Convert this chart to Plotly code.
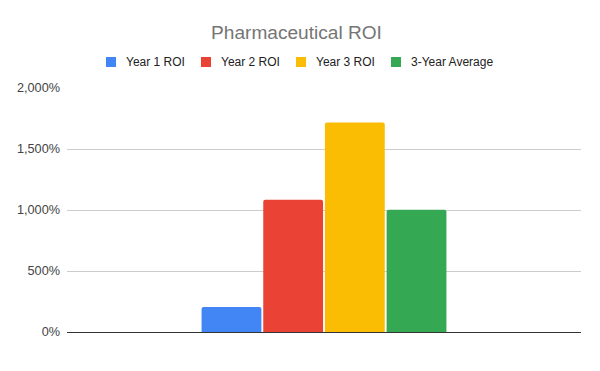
import plotly.graph_objects as go

categories = ["Pharmaceutical"]
series_names = ["Year 1 ROI", "Year 2 ROI", "Year 3 ROI", "3-Year Average"]
series_values = [[205], [1085], [1717], [1002]]
colors = ["#4285F4", "#EA4335", "#FBBC04", "#34A853"]
tick_vals = [0, 500, 1000, 1500, 2000]
tick_text = ["0%", "500%", "1,000%", "1,500%", "2,000%"]

# the page body has an 8px default margin; lay out in screen pixels and offset
OFF = 8
W, H = 600 - 2 * OFF, 371 - 2 * OFF
# screen-space plot rectangle
SX0, SX1, SY0, SY1 = 67, 581, 88, 332
L, R = SX0 - OFF, W - (SX1 - OFF)
T, B = SY0 - OFF, H - (SY1 - OFF)
PW, PH = W - L - R, H - T - B

def sx(px):
    return (px - SX0) / PW

def sy(py):
    return (SY1 - py) / PH

fig = go.Figure()
for name, vals, c in zip(series_names, series_values, colors):
    fig.add_trace(go.Bar(x=categories, y=vals, name=name,
                         marker=dict(color=c, line=dict(width=0), cornerradius=2),
                         showlegend=False,
                         hovertemplate="%{y}%<extra>" + name + "</extra>"))

# manual legend (Google-Sheets style)
legend_left = [106, 201, 296, 391]
legend_cy = 62
shapes = []
annotations = []
for lx, name, c in zip(legend_left, series_names, colors):
    shapes.append(dict(type="rect", xref="paper", yref="paper",
                       x0=sx(lx), x1=sx(lx + 10),
                       y0=sy(legend_cy + 5), y1=sy(legend_cy - 5),
                       fillcolor=c, line=dict(width=0)))
    annotations.append(dict(text=name, xref="paper", yref="paper",
                            x=sx(lx + 18), y=sy(legend_cy),
                            xanchor="left", yanchor="middle", showarrow=False,
                            font=dict(size=12, color="#222222")))

fig.update_layout(
    width=W, height=H,
    paper_bgcolor="white", plot_bgcolor="white",
    font=dict(family="Arial, Liberation Sans, sans-serif", color="#222222", size=12),
    title=dict(text="Pharmaceutical ROI", x=(296.5 - OFF) / W, xanchor="center",
               y=1 - (32 - OFF) / H, yanchor="middle",
               font=dict(size=19.1, color="#757575")),
    margin=dict(l=L, r=R, t=T, b=B, autoexpand=False),
    barmode="group", bargap=0.52, bargroupgap=0.03,
    showlegend=False,
    shapes=shapes, annotations=annotations,
)
fig.update_xaxes(showticklabels=False, showgrid=False, zeroline=False, showline=False, ticks="",
                 automargin=False)
fig.update_yaxes(range=[0, 2000], tickvals=tick_vals, ticktext=tick_text, showgrid=True,
                 gridcolor="#CCCCCC", gridwidth=1, zeroline=True, zerolinecolor="#333333",
                 zerolinewidth=1, showline=False, ticks="", tickfont=dict(size=12.7, color="#444444"),
                 ticklabelstandoff=6, automargin=False)
fig.write_html("out.html")
